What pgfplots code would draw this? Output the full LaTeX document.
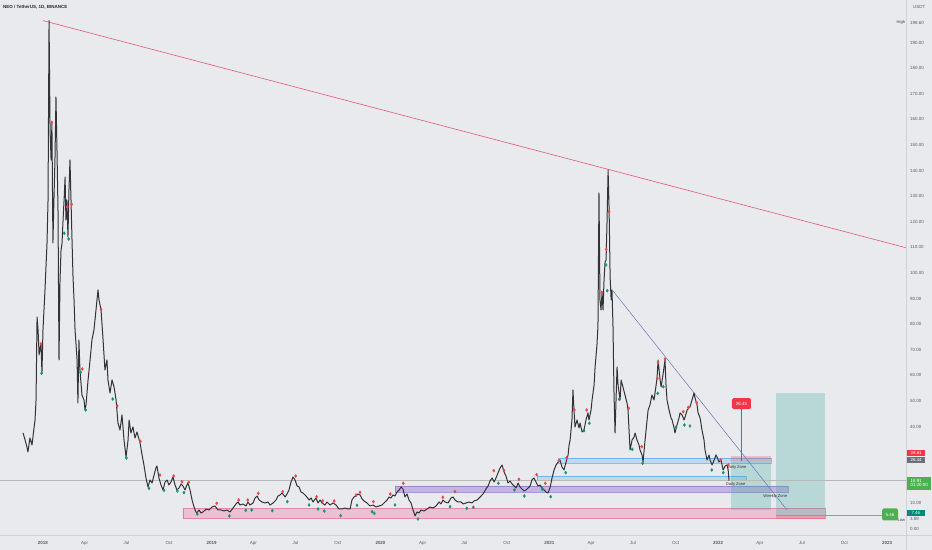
\documentclass[border=0pt]{standalone}
\usepackage{pgfplots}
\pgfplotsset{compat=1.18}
\usepackage{fontspec}
\setmainfont{Liberation Sans}
\definecolor{bgc}{RGB}{233,234,238}
\definecolor{sepc}{RGB}{208,210,216}
\definecolor{labc}{RGB}{90,92,100}
\definecolor{candle}{RGB}{50,50,55}
\definecolor{trendred}{RGB}{230,96,124}
\definecolor{diagblue}{RGB}{100,118,178}
\definecolor{zpink}{RGB}{233,30,99}
\definecolor{zpurple}{RGB}{126,87,194}
\definecolor{zblue}{RGB}{33,150,243}
\definecolor{posgreen}{RGB}{38,166,154}
\definecolor{posred}{RGB}{242,54,69}
\definecolor{dotred}{RGB}{240,70,70}
\definecolor{dotgreen}{RGB}{18,150,110}
\definecolor{lblgreen}{RGB}{76,175,80}
\definecolor{lblteal}{RGB}{0,137,123}
\definecolor{lblgray}{RGB}{110,112,120}
\newcommand{\tickfont}{\fontsize{4.5}{5}\selectfont}
\begin{document}
\begin{tikzpicture}[x=1bp,y=1bp]
\useasboundingbox (0,-14.3) rectangle (932,535.7);
\fill[bgc] (0,-14.3) rectangle (932,535.7);
\begin{axis}[
  at={(0,0)}, anchor=south west, scale only axis,
  width=906.6bp, height=535.7bp,
  xmin=2017.7465, xmax=2023.116, ymin=-2.62, ymax=206.64,
  clip=false,
  axis line style={draw=none},
  major tick length=0pt,
  ytick={0,10,40,50,60,70,80,90,100,110,120,130,140,150,160,170,180,190},
  yticklabel pos=right,
  /pgf/number format/.cd, fixed, fixed zerofill, precision=2, assume math mode=true,
  /pgfplots/.cd,
  yticklabel style={font=\tickfont, text=labc, anchor=west, inner sep=0pt, xshift=3.4bp},
  xtick={2018,2018.247,2018.496,2018.748,2019,2019.247,2019.496,2019.748,2020,2020.249,2020.497,2020.749,2021,2021.247,2021.496,2021.748,2022,2022.247,2022.496,2022.748,2023},
  xticklabels={\bfseries 2018,Apr,Jul,Oct,\bfseries 2019,Apr,Jul,Oct,\bfseries 2020,Apr,Jul,Oct,\bfseries 2021,Apr,Jul,Oct,\bfseries 2022,Apr,Jul,Oct,\bfseries 2023},
  xticklabel style={font=\tickfont, text=labc, anchor=center, inner sep=0pt, yshift=-7.6bp},
]
% zones
\addplot[draw=zpink, draw opacity=0.45, fill=zpink, fill opacity=0.2, line width=0.5bp] coordinates {(2018.830,8.0) (2022.633,8.0) (2022.633,4.1) (2018.830,4.1) (2018.830,8.0)};
\addplot[draw=zpurple, draw opacity=0.5, fill=zpurple, fill opacity=0.35, line width=0.5bp] coordinates {(2020.086,16.80) (2022.413,16.80) (2022.413,14.26) (2020.086,14.26) (2020.086,16.80)};
\addplot[draw=zblue, draw opacity=0.5, fill=zblue, fill opacity=0.2, line width=0.5bp] coordinates {(2021.052,27.73) (2022.313,27.73) (2022.313,25.78) (2021.052,25.78) (2021.052,27.73)};
\addplot[draw=zblue, draw opacity=0.5, fill=zblue, fill opacity=0.2, line width=0.5bp] coordinates {(2020.927,20.70) (2022.165,20.70) (2022.165,19.14) (2020.927,19.14) (2020.927,20.70)};
% positions
\addplot[draw=none, fill=posred, fill opacity=0.25] coordinates {(2022.076,28.61) (2022.313,28.61) (2022.313,26.44) (2022.076,26.44)};
\addplot[draw=none, fill=posgreen, fill opacity=0.25] coordinates {(2022.076,26.44) (2022.313,26.44) (2022.313,7.46) (2022.076,7.46)};
\addplot[draw=none, fill=posgreen, fill opacity=0.25] coordinates {(2022.343,53.2) (2022.633,53.2) (2022.633,5.46) (2022.343,5.46)};
\addplot[draw=none, fill=posred, fill opacity=0.25] coordinates {(2022.343,5.46) (2022.633,5.46) (2022.633,3.89) (2022.343,3.89)};
% current price line and 5.46 line
\addplot[color=gray!55, line width=0.4bp] coordinates {(2017.7465,18.91) (2023.116,18.91)};
\addplot[color=gray!80, line width=0.5bp] coordinates {(2022.343,5.46) (2022.970,5.46)};
% red label line
\addplot[color=posred, line width=0.5bp] coordinates {(2022.138,26.44) (2022.138,46.9)};
% trend lines
\addplot[color=trendred, line width=0.65bp] coordinates {(2018.0,198.6) (2023.116,109.8)};
\addplot[color=diagblue, line width=0.5bp] coordinates {(2021.377,93.0) (2022.408,7.42)};
% price
\addplot[color=candle, line width=1.0bp, line join=round] coordinates {
(2017.883,37.50) (2017.895,34.77) (2017.906,32.03) (2017.912,30.08) (2017.924,35.55) (2017.936,32.81) (2017.948,39.45) (2017.954,42.58) (2017.960,50.39) (2017.966,82.81) (2017.972,77.73) (2017.978,67.97) (2017.989,72.66) (2017.995,60.94) (2018.001,77.73) (2018.013,93.36) (2018.025,111.72) (2018.031,128.52) (2018.037,198.60) (2018.043,155.86) (2018.049,144.14) (2018.054,158.59) (2018.060,111.72) (2018.066,128.52) (2018.072,144.14) (2018.078,168.75) (2018.084,148.05) (2018.090,124.61) (2018.096,66.02) (2018.102,97.27) (2018.108,108.98) (2018.114,111.72) (2018.120,120.70) (2018.126,128.52) (2018.132,137.50) (2018.137,120.70) (2018.143,128.52) (2018.149,114.06) (2018.155,132.42) (2018.161,144.14) (2018.167,128.52) (2018.173,112.89) (2018.179,98.44) (2018.185,89.45) (2018.191,77.73) (2018.203,66.02) (2018.208,49.22) (2018.214,73.83) (2018.220,62.11) (2018.232,52.34) (2018.244,50.39) (2018.250,46.48) (2018.256,48.44) (2018.268,58.20) (2018.280,66.02) (2018.291,73.83) (2018.303,77.73) (2018.315,85.55) (2018.327,93.36) (2018.333,89.45) (2018.345,85.55) (2018.357,73.83) (2018.368,62.11) (2018.380,66.02) (2018.386,58.20) (2018.398,53.13) (2018.410,58.20) (2018.422,55.47) (2018.434,50.39) (2018.445,41.41) (2018.457,38.67) (2018.469,44.53) (2018.481,34.77) (2018.493,28.13) (2018.505,34.77) (2018.511,42.58) (2018.522,37.50) (2018.534,39.84) (2018.546,35.55) (2018.558,37.89) (2018.576,33.59) (2018.588,28.91) (2018.599,25.00) (2018.611,19.92) (2018.623,16.41) (2018.635,19.14) (2018.647,17.97) (2018.659,21.09) (2018.670,23.83) (2018.676,24.61) (2018.688,19.92) (2018.700,17.19) (2018.712,15.23) (2018.724,18.36) (2018.736,19.14) (2018.747,17.19) (2018.759,18.36) (2018.771,20.31) (2018.783,17.19) (2018.795,15.23) (2018.807,16.02) (2018.819,17.58) (2018.830,16.80) (2018.842,15.23) (2018.854,17.19) (2018.860,17.97) (2018.872,15.23) (2018.884,11.33) (2018.896,8.59) (2018.907,6.64) (2018.913,6.25) (2018.925,7.42) (2018.937,6.25) (2018.949,6.64) (2018.967,7.81) (2018.984,7.42) (2019.002,8.59) (2019.020,8.98) (2019.038,7.42) (2019.056,7.42) (2019.073,7.03) (2019.091,7.42) (2019.109,6.64) (2019.127,8.20) (2019.144,9.77) (2019.156,10.55) (2019.168,9.36) (2019.186,9.77) (2019.204,8.98) (2019.215,10.55) (2019.227,9.36) (2019.245,10.16) (2019.257,12.11) (2019.269,12.89) (2019.281,11.33) (2019.298,10.55) (2019.316,10.16) (2019.334,10.55) (2019.346,9.36) (2019.364,10.16) (2019.381,11.33) (2019.393,12.89) (2019.405,13.28) (2019.417,14.06) (2019.435,12.50) (2019.446,13.67) (2019.458,15.23) (2019.470,18.36) (2019.482,20.31) (2019.494,19.14) (2019.506,16.80) (2019.518,16.41) (2019.529,14.45) (2019.541,14.06) (2019.559,12.89) (2019.577,11.33) (2019.589,12.11) (2019.600,10.55) (2019.618,12.11) (2019.630,10.16) (2019.642,11.33) (2019.654,10.16) (2019.671,9.36) (2019.683,10.55) (2019.701,9.36) (2019.719,10.16) (2019.737,9.36) (2019.754,7.81) (2019.772,7.81) (2019.790,8.20) (2019.808,7.81) (2019.820,7.81) (2019.831,11.33) (2019.843,12.50) (2019.855,12.89) (2019.867,13.67) (2019.879,13.28) (2019.891,11.72) (2019.903,10.94) (2019.920,10.16) (2019.938,8.98) (2019.956,9.36) (2019.973,8.59) (2019.991,8.98) (2020.009,9.36) (2020.027,10.55) (2020.039,11.33) (2020.051,12.50) (2020.062,12.11) (2020.074,13.28) (2020.086,12.89) (2020.098,14.45) (2020.110,15.23) (2020.122,16.41) (2020.133,15.63) (2020.145,12.50) (2020.157,13.67) (2020.169,11.33) (2020.181,10.16) (2020.193,7.42) (2020.205,5.08) (2020.216,6.64) (2020.228,6.25) (2020.240,7.42) (2020.258,7.03) (2020.276,7.81) (2020.293,8.59) (2020.311,8.20) (2020.329,8.98) (2020.347,10.55) (2020.358,9.77) (2020.370,11.33) (2020.382,10.55) (2020.400,10.16) (2020.418,12.11) (2020.430,12.50) (2020.441,11.33) (2020.459,10.55) (2020.477,10.55) (2020.489,9.77) (2020.507,10.16) (2020.524,10.55) (2020.542,10.16) (2020.554,10.94) (2020.572,11.33) (2020.590,12.50) (2020.607,13.67) (2020.625,15.63) (2020.637,16.80) (2020.649,18.75) (2020.661,19.92) (2020.673,18.36) (2020.684,19.92) (2020.696,21.88) (2020.708,23.83) (2020.720,25.00) (2020.732,22.27) (2020.743,20.70) (2020.755,17.97) (2020.767,18.75) (2020.779,17.58) (2020.791,16.80) (2020.803,16.02) (2020.815,17.97) (2020.826,16.41) (2020.838,15.63) (2020.850,14.84) (2020.862,15.23) (2020.874,16.02) (2020.886,16.80) (2020.897,19.14) (2020.909,19.92) (2020.921,18.36) (2020.933,16.80) (2020.945,17.19) (2020.957,16.02) (2020.969,15.23) (2020.980,14.45) (2020.992,14.06) (2021.004,16.02) (2021.016,19.92) (2021.028,23.05) (2021.040,25.00) (2021.052,26.17) (2021.063,26.95) (2021.075,24.22) (2021.087,23.05) (2021.099,26.17) (2021.111,28.91) (2021.117,32.81) (2021.123,34.77) (2021.134,42.58) (2021.140,54.30) (2021.146,46.48) (2021.152,39.84) (2021.164,42.58) (2021.176,39.45) (2021.182,41.41) (2021.194,37.89) (2021.205,38.67) (2021.217,42.58) (2021.229,45.33) (2021.235,42.58) (2021.247,46.48) (2021.253,50.39) (2021.265,56.25) (2021.271,63.28) (2021.282,71.88) (2021.288,79.30) (2021.294,131.25) (2021.300,89.45) (2021.306,85.55) (2021.312,92.19) (2021.318,85.55) (2021.324,97.27) (2021.330,104.30) (2021.336,105.08) (2021.342,120.70) (2021.348,140.23) (2021.354,124.61) (2021.360,98.44) (2021.366,89.45) (2021.371,93.36) (2021.377,79.30) (2021.383,53.13) (2021.389,37.50) (2021.395,50.39) (2021.401,63.28) (2021.407,56.25) (2021.419,50.39) (2021.425,58.20) (2021.436,55.47) (2021.448,52.34) (2021.460,49.22) (2021.466,46.48) (2021.478,30.86) (2021.490,34.77) (2021.502,35.94) (2021.508,37.50) (2021.519,34.77) (2021.531,32.81) (2021.537,30.86) (2021.549,28.91) (2021.555,26.17) (2021.567,34.77) (2021.579,42.58) (2021.585,46.48) (2021.596,48.44) (2021.608,52.34) (2021.620,50.39) (2021.626,53.13) (2021.638,58.98) (2021.644,66.02) (2021.656,58.20) (2021.662,55.47) (2021.673,60.16) (2021.685,66.02) (2021.691,56.25) (2021.697,50.39) (2021.709,46.48) (2021.721,43.36) (2021.727,42.58) (2021.739,39.45) (2021.744,37.50) (2021.756,40.63) (2021.768,43.36) (2021.774,45.33) (2021.786,44.53) (2021.798,42.58) (2021.804,43.75) (2021.816,46.48) (2021.827,47.27) (2021.833,47.66) (2021.845,50.39) (2021.857,53.13) (2021.863,51.17) (2021.875,48.44) (2021.881,45.33) (2021.893,43.36) (2021.904,38.67) (2021.916,34.77) (2021.922,30.86) (2021.934,26.95) (2021.946,28.91) (2021.952,26.95) (2021.964,25.00) (2021.976,26.95) (2021.987,28.91) (2021.993,28.13) (2022.005,26.17) (2022.017,26.95) (2022.029,23.05) (2022.041,24.61) (2022.053,25.00) (2022.059,23.05) (2022.064,18.91)
};
% pivot dots
\addplot[only marks, mark=diamond*, mark size=1.5bp, color=dotred] coordinates {
(2018.053,158.87) (2017.989,72.27) (2018.145,125.78) (2018.171,126.84) (2018.345,85.82) (2018.234,62.50) (2018.441,48.05) (2018.578,34.26) (2018.694,21.09) (2018.775,20.70) (2018.824,18.48) (2018.864,18.24) (2019.030,10.04) (2019.160,11.33) (2019.214,11.33) (2019.276,13.94) (2019.421,14.57) (2019.498,20.70) (2019.622,12.62) (2019.658,11.05) (2019.726,10.94) (2019.855,13.28) (2019.879,14.34) (2019.958,10.66) (2020.058,13.67) (2020.135,17.85) (2020.369,12.38) (2020.441,14.57) (2020.671,22.77) (2020.732,22.77) (2020.820,19.41) (2020.925,21.21) (2020.976,17.85) (2021.057,26.68) (2021.103,27.85) (2021.148,46.48) (2021.221,46.48) (2021.354,123.95) (2021.337,109.26) (2021.310,92.46) (2021.470,47.15) (2021.547,32.15) (2021.644,64.96) (2021.640,58.86) (2021.685,66.41) (2021.793,45.82) (2021.823,47.54) (2021.873,49.34) (2022.015,26.95) (2022.060,25.00)
};
\addplot[only marks, mark=diamond*, mark size=1.5bp, color=dotgreen] coordinates {
(2017.993,60.82) (2018.127,115.51) (2018.153,113.28) (2018.224,61.21) (2018.254,46.48) (2018.414,50.78) (2018.495,27.73) (2018.629,15.90) (2018.718,15.12) (2018.797,14.84) (2018.836,14.18) (2018.915,5.86) (2019.105,5.08) (2019.202,7.30) (2019.237,7.42) (2019.359,7.15) (2019.448,10.66) (2019.577,9.38) (2019.630,7.81) (2019.667,7.03) (2019.764,5.20) (2019.861,9.26) (2019.950,6.76) (2019.963,6.13) (2020.086,9.38) (2020.222,3.91) (2020.412,8.71) (2020.511,8.09) (2020.550,8.48) (2020.698,17.85) (2020.793,15.23) (2020.852,12.89) (2020.958,15.51) (2021.008,12.62) (2021.097,21.99) (2021.336,103.13) (2021.343,93.08) (2021.414,50.66) (2021.205,38.40) (2021.237,41.29) (2021.491,31.13) (2021.553,25.66) (2021.642,52.99) (2021.675,55.59) (2021.750,39.73) (2021.800,40.63) (2021.833,40.23) (2021.962,23.05) (2022.030,22.00)
};
% texts in chart
\node[anchor=west, font=\fontsize{4.5}{5}\selectfont\bfseries, text=black!85, inner sep=0pt] at (axis cs:2017.764,203.9) {NEO / TetherUS, 1D, BINANCE};
\node[anchor=west, font=\fontsize{4.1}{5}\selectfont, text=black!80, inner sep=0pt] at (axis cs:2022.051,23.9) {Daily Zone};
\node[anchor=west, font=\fontsize{4.1}{5}\selectfont, text=black!80, inner sep=0pt] at (axis cs:2022.045,17.3) {Daily Zone};
\node[anchor=west, font=\fontsize{4.1}{5}\selectfont, text=black!80, inner sep=0pt] at (axis cs:2022.267,12.6) {Weekly Zone};
\node[fill=posred, text=white, font=\tickfont, rounded corners=1.5bp, minimum width=19bp, minimum height=11bp, inner sep=0pt] at (axis cs:2022.138,49.0) {26.45};
\node[fill=lblgreen, text=white, font=\tickfont, rounded corners=1.5bp, minimum width=16bp, minimum height=12bp, inner sep=0pt] at (axis cs:2023.018,5.66) {5.46};
\node[anchor=east, font=\fontsize{4.1}{5}\selectfont, text=black!75, inner sep=0pt] at (axis cs:2023.108,3.6) {Low};
\node[anchor=east, font=\fontsize{4.1}{5}\selectfont, text=black!75, inner sep=0pt] at (axis cs:2023.108,197.8) {High};
% right axis labels
\node[anchor=west, font=\tickfont, text=labc, inner sep=0pt] at (axis cs:2023.116,197.8) {\hspace{3.4bp}198.60};
\node[anchor=west, font=\tickfont, text=labc, inner sep=0pt] at (axis cs:2023.116,204.0) {\hspace{6.4bp}USDT};
\node[anchor=west, fill=posred, text=white, font=\tickfont, minimum width=17.5bp, minimum height=6.5bp, inner xsep=3.4bp, inner ysep=0pt, align=left, xshift=0.3bp] at (axis cs:2023.116,29.7) {28.61};
\node[anchor=west, fill=lblgray, text=white, font=\tickfont, minimum width=17.5bp, minimum height=6.5bp, inner xsep=3.4bp, inner ysep=0pt, xshift=0.3bp] at (axis cs:2023.116,27.0) {26.44};
\node[anchor=west, fill=lblgreen, text=white, font=\tickfont, minimum width=23.5bp, minimum height=13.3bp, inner xsep=3.4bp, inner ysep=0pt, align=left, xshift=0.3bp] at (axis cs:2023.116,17.85) {18.91\\[-0.8bp]01:20:00};
\node[anchor=west, fill=lblteal, text=white, font=\tickfont, minimum width=17.5bp, minimum height=6.5bp, inner xsep=3.4bp, inner ysep=0pt, xshift=0.3bp] at (axis cs:2023.116,6.2) {7.46};
\node[anchor=west, font=\tickfont, text=labc, inner sep=0pt] at (axis cs:2023.116,3.89) {\hspace{3.4bp}3.89};
\end{axis}
\draw[sepc, line width=0.6bp] (906.6,-14.3) -- (906.6,535.7);
\draw[sepc, line width=0.6bp] (0,0) -- (932,0);
\end{tikzpicture}
\end{document}
